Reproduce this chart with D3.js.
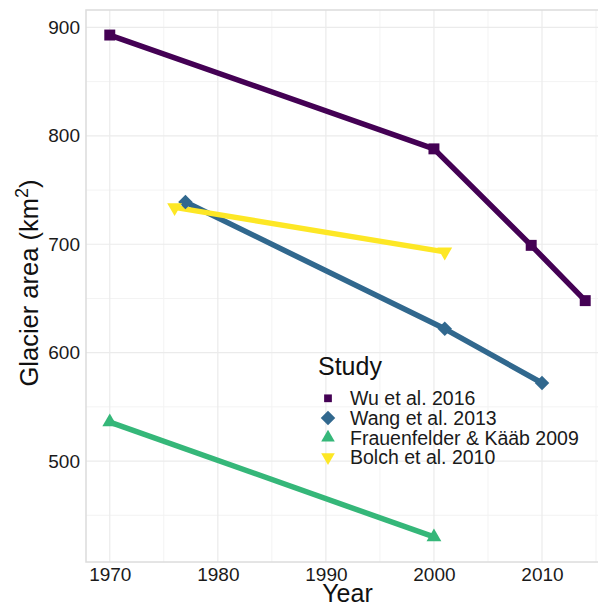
<!DOCTYPE html>
<html><head><meta charset="utf-8">
<script src="https://cdn.jsdelivr.net/npm/d3@7"></script>
<style>body{margin:0;background:#fff}svg{display:block;font-family:"Liberation Sans",Arial,sans-serif}</style>
</head><body><svg id="c" width="598" height="608"></svg>
<script>
const studies = ["Wu et al. 2016","Wang et al. 2013","Frauenfelder & Kääb 2009","Bolch et al. 2010"];
const colors = ["#440154","#31688E","#35B779","#FDE725"];
const wuYears = [1970,2000,2009,2014];
const wuArea = [893,788,699,648];
const wangYears = [1977,2001,2010];
const wangArea = [739,622,572];
const frauYears = [1970,2000];
const frauArea = [536,430];
const bolchYears = [1976,2001];
const bolchArea = [734,693];
const xTicks = [1970,1980,1990,2000,2010];
const yTicks = [500,600,700,800,900];

const series = [[wuYears,wuArea],[wangYears,wangArea],[frauYears,frauArea],[bolchYears,bolchArea]]
  .map((s,i)=>({name:studies[i],color:colors[i],pts:s[0].map((y,j)=>({x:y,y:s[1][j]}))}));

const svg = d3.select("#c");
const L=86, R=609, T=10, B=562;
const x = d3.scaleLinear().domain([1967.8,2016.2]).range([L,R]);
const y = d3.scaleLinear().domain([406.9,916.1]).range([B,T]);
const FF = "Liberation Sans, Arial, sans-serif";

// grid
const g = svg.append("g");
const minorX = d3.range(1965,2020,5).filter(v=>v%10!==0);
const minorY = d3.range(450,950,100);
g.selectAll(".mx").data(minorX.filter(v=>x(v)>L&&x(v)<R)).join("line")
 .attr("x1",d=>x(d)).attr("x2",d=>x(d)).attr("y1",T).attr("y2",B).attr("stroke","#f3f3f3").attr("stroke-width",1);
g.selectAll(".my").data(minorY.filter(v=>y(v)>T&&y(v)<B)).join("line")
 .attr("x1",L).attr("x2",R).attr("y1",d=>y(d)).attr("y2",d=>y(d)).attr("stroke","#f3f3f3").attr("stroke-width",1);
g.selectAll(".Mx").data(xTicks).join("line")
 .attr("x1",d=>x(d)).attr("x2",d=>x(d)).attr("y1",T).attr("y2",B).attr("stroke","#ebebeb").attr("stroke-width",1.2);
g.selectAll(".My").data(yTicks).join("line")
 .attr("x1",L).attr("x2",R).attr("y1",d=>y(d)).attr("y2",d=>y(d)).attr("stroke","#ebebeb").attr("stroke-width",1.2);
svg.append("rect").attr("x",L).attr("y",T).attr("width",R-L).attr("height",B-T)
 .attr("fill","none").attr("stroke","#dcdcdc").attr("stroke-width",1.5);

// axes labels
const xa = svg.append("g").attr("transform",`translate(0,${B})`).call(d3.axisBottom(x).tickValues(xTicks).tickFormat(d3.format("d")).tickSize(0).tickPadding(5.5));
xa.select(".domain").remove();
xa.selectAll("text").attr("font-size",19).attr("fill","#1a1a1a").attr("font-family",FF);
const ya = svg.append("g").attr("transform",`translate(${L},0)`).call(d3.axisLeft(y).tickValues(yTicks).tickSize(0).tickPadding(6));
ya.select(".domain").remove();
ya.selectAll("text").attr("font-size",19).attr("fill","#1a1a1a").attr("font-family",FF);

svg.append("text").attr("x",(L+R)/2).attr("y",602).attr("text-anchor","middle").attr("font-size",25).attr("fill","#111").text("Year");
const yt = svg.append("text").attr("transform",`translate(38,283) rotate(-90)`).attr("text-anchor","middle").attr("font-size",25.5).attr("fill","#111");
yt.append("tspan").text("Glacier area (km");
yt.append("tspan").attr("dy",-10).attr("font-size",18).text("2");
yt.append("tspan").attr("dy",10).text(")");

// data
svg.append("clipPath").attr("id","cp").append("rect").attr("x",L).attr("y",T).attr("width",R-L).attr("height",B-T);
const plot = svg.append("g").attr("clip-path","url(#cp)");
const line = d3.line().x(d=>x(d.x)).y(d=>y(d.y));
const shapes = [
  {type:d3.symbolSquare,size:120,rot:0},
  {type:d3.symbolSquare,size:105,rot:45},
  {type:d3.symbolTriangle,size:95,rot:0},
  {type:d3.symbolTriangle,size:95,rot:180}
];
series.forEach(s=>{
  plot.append("path").datum(s.pts).attr("d",line).attr("fill","none").attr("stroke",s.color).attr("stroke-width",5.5).attr("stroke-linejoin","round");
});
series.forEach((s,i)=>{
  const sh = shapes[i];
  plot.selectAll(null).data(s.pts).join("path")
    .attr("d",d3.symbol().type(sh.type).size(sh.size))
    .attr("transform",d=>`translate(${x(d.x)},${y(d.y)}) rotate(${sh.rot})`)
    .attr("fill",s.color);
});

// legend
const lg = svg.append("g");
lg.append("text").attr("x",318).attr("y",375).attr("font-size",25).attr("fill","#111").text("Study");
const lshapes = [
  {type:d3.symbolSquare,size:60,rot:0},
  {type:d3.symbolSquare,size:105,rot:45},
  {type:d3.symbolTriangle,size:80,rot:0},
  {type:d3.symbolTriangle,size:80,rot:180}
];
studies.forEach((st,i)=>{
  const yy = 398.3 + i*19.6;
  const sh = lshapes[i];
  lg.append("path").attr("d",d3.symbol().type(sh.type).size(sh.size))
    .attr("transform",`translate(328,${yy}) rotate(${sh.rot})`).attr("fill",colors[i]);
  lg.append("text").attr("x",350).attr("y",yy+7).attr("font-size",19.5).attr("fill","#1a1a1a").text(st);
});
</script></body></html>
